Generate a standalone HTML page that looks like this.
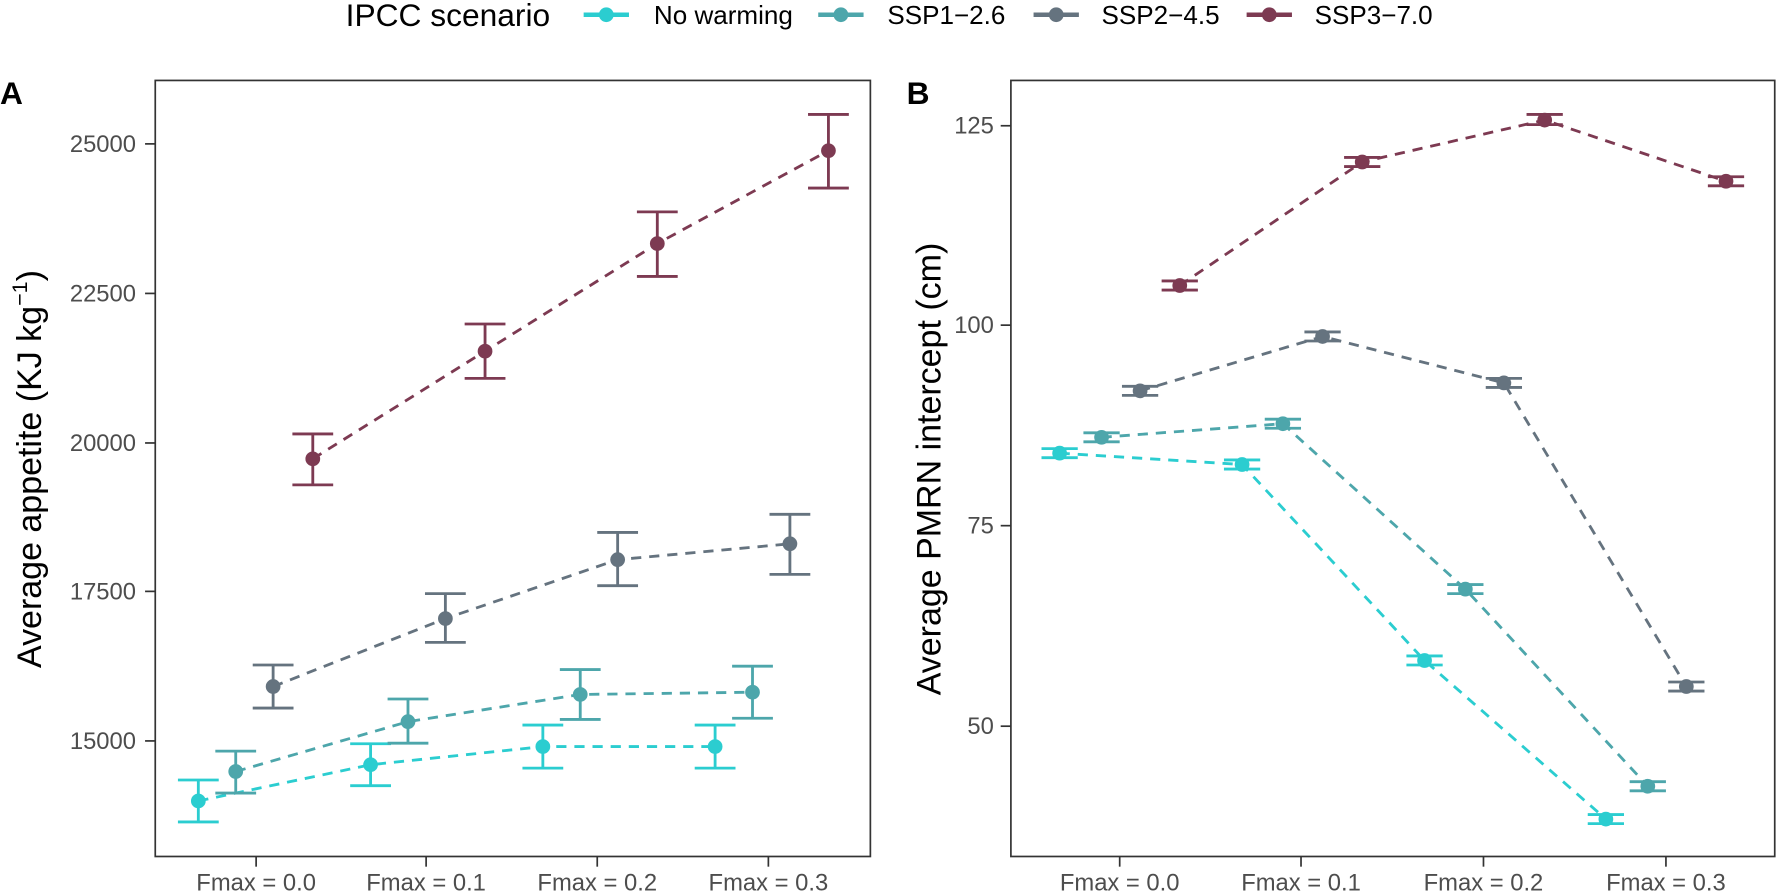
<!DOCTYPE html>
<html><head><meta charset="utf-8"><style>
html,body{margin:0;padding:0;background:#fff;}
svg{display:block;font-family:"Liberation Sans",Arial,sans-serif;}
</style></head><body>
<svg width="1777" height="895" viewBox="0 0 1568 790" preserveAspectRatio="none" xmlns="http://www.w3.org/2000/svg">
<rect width="1568" height="790" fill="#fff"/>
<!-- Legend -->
<text x="305" y="23" font-size="28" fill="#000">IPCC scenario</text>
<g stroke-width="4">
<line x1="515" y1="13" x2="555" y2="13" stroke="#2BCDD0"/><circle cx="535" cy="13" r="6.5" fill="#2BCDD0"/>
<line x1="722" y1="13" x2="762" y2="13" stroke="#4DA6AB"/><circle cx="742" cy="13" r="6.5" fill="#4DA6AB"/>
<line x1="912" y1="13" x2="952" y2="13" stroke="#65737F"/><circle cx="932" cy="13" r="6.5" fill="#65737F"/>
<line x1="1100" y1="13" x2="1140" y2="13" stroke="#7D3A52"/><circle cx="1120" cy="13" r="6.5" fill="#7D3A52"/>
</g>
<g font-size="23" fill="#000">
<text x="577" y="21">No warming</text>
<text x="783" y="21">SSP1−2.6</text>
<text x="972" y="21">SSP2−4.5</text>
<text x="1160" y="21">SSP3−7.0</text>
</g>
<!-- Panel labels -->
<text x="0" y="92" font-size="28" font-weight="bold">A</text>
<text x="800" y="92" font-size="28" font-weight="bold">B</text>

<!-- Panel A -->
<rect x="137" y="71" width="631" height="685" fill="none" stroke="#333" stroke-width="1.5"/>
<g stroke="#333" stroke-width="1.5">
<line x1="128" y1="127" x2="137" y2="127"/><line x1="128" y1="259" x2="137" y2="259"/><line x1="128" y1="391" x2="137" y2="391"/><line x1="128" y1="522" x2="137" y2="522"/><line x1="128" y1="654" x2="137" y2="654"/>
<line x1="226" y1="756" x2="226" y2="765"/><line x1="376" y1="756" x2="376" y2="765"/><line x1="527" y1="756" x2="527" y2="765"/><line x1="678" y1="756" x2="678" y2="765"/>
</g>
<g font-size="21" fill="#4d4d4d" text-anchor="end">
<text x="120" y="134">25000</text><text x="120" y="266">22500</text><text x="120" y="398">20000</text><text x="120" y="529">17500</text><text x="120" y="661">15000</text>
</g>
<g font-size="21" fill="#4d4d4d" text-anchor="middle">
<text x="226" y="786">Fmax = 0.0</text><text x="376" y="786">Fmax = 0.1</text><text x="527" y="786">Fmax = 0.2</text><text x="678" y="786">Fmax = 0.3</text>
</g>
<text transform="translate(36,414) rotate(-90)" font-size="30" text-anchor="middle" fill="#000">Average appetite (KJ kg<tspan font-size="19" dy="-12">−1</tspan><tspan dy="12">)</tspan></text>

<g fill="none" stroke-width="2.5" stroke-dasharray="9 7">
<polyline points="175,707 327,675 479,659 631,659" stroke="#2BCDD0"/>
<polyline points="208,681 360,637 512,613 664,611" stroke="#4DA6AB"/>
<polyline points="241,606 393,546 545,494 697,480" stroke="#65737F"/>
<polyline points="276,405 428,310 580,215 731,133" stroke="#7D3A52"/>
</g>
<g stroke-width="2.5" fill="none">
<g stroke="#2BCDD0">
<path d="M157,688.5H193M175,688.5V725.5M157,725.5H193"/>
<path d="M309,656.5H345M327,656.5V693.5M309,693.5H345"/>
<path d="M461,640H497M479,640V678M461,678H497"/>
<path d="M613,640H649M631,640V678M613,678H649"/>
</g>
<g stroke="#4DA6AB">
<path d="M190,663H226M208,663V700M190,700H226"/>
<path d="M342,617H378M360,617V656M342,656H378"/>
<path d="M494,591H530M512,591V635M494,635H530"/>
<path d="M646,588H682M664,588V634M646,634H682"/>
</g>
<g stroke="#65737F">
<path d="M223,587H259M241,587V625M223,625H259"/>
<path d="M375,524H411M393,524V567M375,567H411"/>
<path d="M527,470H563M545,470V517M527,517H563"/>
<path d="M679,454H715M697,454V507M679,507H715"/>
</g>
<g stroke="#7D3A52">
<path d="M258,383H294M276,383V428M258,428H294"/>
<path d="M410,286H446M428,286V334M410,334H446"/>
<path d="M562,187H598M580,187V244M562,244H598"/>
<path d="M713,101H749M731,101V166M713,166H749"/>
</g>
</g>
<g>
<circle cx="175" cy="707" r="6.5" fill="#2BCDD0"/><circle cx="327" cy="675" r="6.5" fill="#2BCDD0"/><circle cx="479" cy="659" r="6.5" fill="#2BCDD0"/><circle cx="631" cy="659" r="6.5" fill="#2BCDD0"/>
<circle cx="208" cy="681" r="6.5" fill="#4DA6AB"/><circle cx="360" cy="637" r="6.5" fill="#4DA6AB"/><circle cx="512" cy="613" r="6.5" fill="#4DA6AB"/><circle cx="664" cy="611" r="6.5" fill="#4DA6AB"/>
<circle cx="241" cy="606" r="6.5" fill="#65737F"/><circle cx="393" cy="546" r="6.5" fill="#65737F"/><circle cx="545" cy="494" r="6.5" fill="#65737F"/><circle cx="697" cy="480" r="6.5" fill="#65737F"/>
<circle cx="276" cy="405" r="6.5" fill="#7D3A52"/><circle cx="428" cy="310" r="6.5" fill="#7D3A52"/><circle cx="580" cy="215" r="6.5" fill="#7D3A52"/><circle cx="731" cy="133" r="6.5" fill="#7D3A52"/>
</g>

<!-- Panel B -->
<rect x="892" y="71" width="674" height="685" fill="none" stroke="#333" stroke-width="1.5"/>
<g stroke="#333" stroke-width="1.5">
<line x1="883" y1="111" x2="892" y2="111"/><line x1="883" y1="287" x2="892" y2="287"/><line x1="883" y1="464" x2="892" y2="464"/><line x1="883" y1="641" x2="892" y2="641"/>
<line x1="988" y1="756" x2="988" y2="765"/><line x1="1148" y1="756" x2="1148" y2="765"/><line x1="1309" y1="756" x2="1309" y2="765"/><line x1="1470" y1="756" x2="1470" y2="765"/>
</g>
<g font-size="21" fill="#4d4d4d" text-anchor="end">
<text x="877" y="118">125</text><text x="877" y="294">100</text><text x="877" y="471">75</text><text x="877" y="648">50</text>
</g>
<g font-size="21" fill="#4d4d4d" text-anchor="middle">
<text x="988" y="786">Fmax = 0.0</text><text x="1148" y="786">Fmax = 0.1</text><text x="1309" y="786">Fmax = 0.2</text><text x="1470" y="786">Fmax = 0.3</text>
</g>
<text transform="translate(830,414) rotate(-90)" font-size="30" text-anchor="middle" fill="#000">Average PMRN intercept (cm)</text>

<g fill="none" stroke-width="2.5" stroke-dasharray="9 7">
<polyline points="935,400 1096,410 1257,583 1417,723" stroke="#2BCDD0"/>
<polyline points="972,386 1132,374 1293,520 1454,694" stroke="#4DA6AB"/>
<polyline points="1006,345 1167,297 1327,338 1488,606" stroke="#65737F"/>
<polyline points="1041,252 1202,143 1363,106 1523,160" stroke="#7D3A52"/>
</g>
<g stroke-width="2.5" fill="none">
<g stroke="#2BCDD0">
<path d="M919,396H951M919,404H951M935,396V404"/>
<path d="M1080,406H1112M1080,414H1112M1096,406V414"/>
<path d="M1241,579H1273M1241,587H1273M1257,579V587"/>
<path d="M1401,719H1433M1401,727H1433M1417,719V727"/>
</g>
<g stroke="#4DA6AB">
<path d="M956,382H988M956,390H988"/>
<path d="M1116,370H1148M1116,378H1148"/>
<path d="M1277,516H1309M1277,524H1309"/>
<path d="M1438,690H1470M1438,698H1470"/>
</g>
<g stroke="#65737F">
<path d="M990,341H1022M990,349H1022"/>
<path d="M1151,293H1183M1151,301H1183"/>
<path d="M1311,334H1343M1311,342H1343"/>
<path d="M1472,602H1504M1472,610H1504"/>
</g>
<g stroke="#7D3A52">
<path d="M1025,248H1057M1025,256H1057"/>
<path d="M1186,139H1218M1186,147H1218"/>
<path d="M1347,101H1379M1347,110H1379"/>
<path d="M1507,156H1539M1507,164H1539"/>
</g>
</g>
<g>
<circle cx="935" cy="400" r="6.5" fill="#2BCDD0"/><circle cx="1096" cy="410" r="6.5" fill="#2BCDD0"/><circle cx="1257" cy="583" r="6.5" fill="#2BCDD0"/><circle cx="1417" cy="723" r="6.5" fill="#2BCDD0"/>
<circle cx="972" cy="386" r="6.5" fill="#4DA6AB"/><circle cx="1132" cy="374" r="6.5" fill="#4DA6AB"/><circle cx="1293" cy="520" r="6.5" fill="#4DA6AB"/><circle cx="1454" cy="694" r="6.5" fill="#4DA6AB"/>
<circle cx="1006" cy="345" r="6.5" fill="#65737F"/><circle cx="1167" cy="297" r="6.5" fill="#65737F"/><circle cx="1327" cy="338" r="6.5" fill="#65737F"/><circle cx="1488" cy="606" r="6.5" fill="#65737F"/>
<circle cx="1041" cy="252" r="6.5" fill="#7D3A52"/><circle cx="1202" cy="143" r="6.5" fill="#7D3A52"/><circle cx="1363" cy="106" r="6.5" fill="#7D3A52"/><circle cx="1523" cy="160" r="6.5" fill="#7D3A52"/>
</g>
</svg>
</body></html>
